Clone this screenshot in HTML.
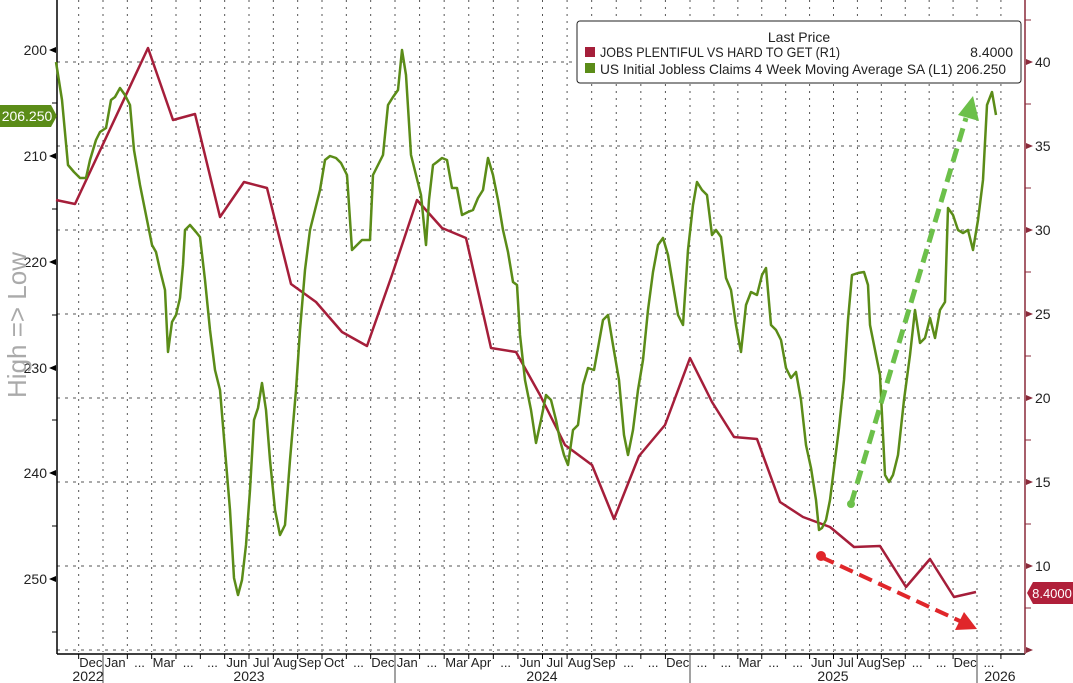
<!DOCTYPE html>
<html><head><meta charset="utf-8"><style>
html,body{margin:0;padding:0;background:#fff}
svg{display:block;font-family:"Liberation Sans",sans-serif}
</style></head><body>
<svg width="1073" height="683" viewBox="0 0 1073 683" xmlns="http://www.w3.org/2000/svg">
<rect width="1073" height="683" fill="#fff"/>
<g id="vgrid" stroke="#555" stroke-width="1" stroke-dasharray="2,5"></g>
<g stroke="#555" stroke-width="1" stroke-dasharray="3,5">
<line x1="57" y1="62" x2="1025" y2="62"/><line x1="57" y1="146" x2="1025" y2="146"/>
<line x1="57" y1="230" x2="1025" y2="230"/><line x1="57" y1="314" x2="1025" y2="314"/>
<line x1="57" y1="398" x2="1025" y2="398"/><line x1="57" y1="482" x2="1025" y2="482"/>
<line x1="57" y1="566" x2="1025" y2="566"/><line x1="57" y1="650" x2="1025" y2="650"/>
</g>
<line x1="57" y1="0" x2="57" y2="654" stroke="#000" stroke-width="1.5"/>
<line x1="57" y1="654" x2="1025" y2="654" stroke="#000" stroke-width="1.5"/>
<line x1="1025" y1="0" x2="1025" y2="654" stroke="#8a2a3a" stroke-width="1.5"/>
<g font-size="14" fill="#222" text-anchor="end">
<text x="47" y="55">200</text><text x="47" y="161">210</text><text x="47" y="267">220</text>
<text x="47" y="373">230</text><text x="47" y="478">240</text><text x="47" y="584">250</text>
</g>
<g fill="#000">
<path d="M49 50l7-3v6z"/><path d="M49 156l7-3v6z"/><path d="M49 262l7-3v6z"/>
<path d="M49 368l7-3v6z"/><path d="M49 473l7-3v6z"/><path d="M49 579l7-3v6z"/>
</g>
<g stroke="#000"><line x1="52" y1="103" x2="57" y2="103"/><line x1="52" y1="209" x2="57" y2="209"/><line x1="52" y1="315" x2="57" y2="315"/><line x1="52" y1="420" x2="57" y2="420"/><line x1="52" y1="526" x2="57" y2="526"/><line x1="52" y1="632" x2="57" y2="632"/></g>
<g font-size="14" fill="#222">
<text x="1035" y="67">40</text><text x="1035" y="151">35</text><text x="1035" y="235">30</text>
<text x="1035" y="319">25</text><text x="1035" y="403">20</text><text x="1035" y="487">15</text>
<text x="1035" y="571">10</text>
</g>
<g fill="#8a2a3a">
<path d="M1033 62l-7-3v6z"/><path d="M1033 146l-7-3v6z"/><path d="M1033 230l-7-3v6z"/><path d="M1033 314l-7-3v6z"/>
<path d="M1033 398l-7-3v6z"/><path d="M1033 482l-7-3v6z"/><path d="M1033 566l-7-3v6z"/><path d="M1033 650l-7-3v6z"/>
</g>
<g stroke="#8a2a3a"><line x1="1025" y1="20" x2="1031" y2="20"/><line x1="1025" y1="104" x2="1031" y2="104"/><line x1="1025" y1="188" x2="1031" y2="188"/><line x1="1025" y1="272" x2="1031" y2="272"/><line x1="1025" y1="356" x2="1031" y2="356"/><line x1="1025" y1="440" x2="1031" y2="440"/><line x1="1025" y1="524" x2="1031" y2="524"/><line x1="1025" y1="608" x2="1031" y2="608"/></g>
<text transform="translate(26,325) rotate(-90)" font-size="26" fill="#aaa" text-anchor="middle">High =&gt; Low</text>
<g id="xlab" font-size="13" fill="#222" text-anchor="middle"></g>
<polyline fill="none" stroke="#a51e3a" stroke-width="2.5" stroke-linejoin="round" points="56,200 75,204 148,48 173,120 195,114 220,217 244,182 267,188 291,284 316,302 342,332 367,346 392,275 417,200 442,228 466,238 491,348 516,352 540,395 565,445 592,465 614,519 639,456 665,425 690,358 712,402 734,437 757,439 780,502 803,517 830,527 854,547 880,546 906,587 930,559 954,597 976,592"/>
<polyline fill="none" stroke="#5b8c18" stroke-width="2.5" stroke-linejoin="round" points="56,62 62,100 68,165 74,172 80,178 86,178 90,160 96,140 100,132 106,128 111,100 115,97 120,88 125,95 130,105 134,150 140,185 146,215 152,245 156,252 160,270 165,290 168,352 172,322 176,315 180,298 183,265 185,230 190,225 196,232 200,237 205,280 210,330 215,370 220,390 225,450 230,510 234,578 238,595 242,580 246,545 250,490 254,420 258,408 262,383 266,410 270,460 275,510 280,535 285,525 290,460 296,390 300,330 305,270 310,230 315,210 320,190 325,160 330,156 336,158 341,163 347,175 352,250 357,245 362,240 370,240 373,175 378,165 383,155 388,105 393,97 398,90 402,50 406,75 411,155 416,175 421,195 426,245 429,200 433,165 437,162 442,158 447,160 452,188 457,188 462,215 468,212 473,210 478,198 483,190 488,158 493,175 498,200 503,230 508,252 513,282 517,285 520,335 525,380 531,410 536,443 541,420 546,395 551,400 556,420 560,440 564,455 568,465 573,430 578,425 583,385 588,368 594,370 598,348 603,320 608,315 613,345 619,380 624,435 628,455 633,430 638,390 643,360 648,310 653,272 658,245 663,238 668,255 673,285 678,315 683,325 688,250 693,205 697,182 702,190 707,195 712,235 716,230 721,237 726,278 731,290 736,325 741,352 746,305 751,292 757,295 762,275 766,268 771,325 776,330 781,340 786,368 791,378 796,372 801,400 806,445 811,468 816,500 819,530 822,528 826,520 830,500 835,460 839,428 844,380 848,320 852,275 858,273 864,272 868,285 870,325 875,350 880,375 885,475 889,482 893,475 898,455 904,400 910,355 915,310 920,343 925,338 930,318 935,338 940,310 945,302 948,208 953,215 958,230 963,233 968,230 973,250 978,220 983,180 987,105 992,92 996,115"/>
<line x1="821" y1="557" x2="962" y2="622" stroke="#e0262a" stroke-width="4" stroke-dasharray="14,7"/>
<circle cx="821" cy="556" r="5" fill="#e0262a"/>
<path d="M977 629 L955 630 L964 612 Z" fill="#e0262a"/>
<line x1="851" y1="504" x2="966" y2="118" stroke="#6cc04a" stroke-width="5" stroke-dasharray="14,7"/>
<circle cx="851" cy="504" r="4" fill="#6cc04a"/>
<path d="M973 96 L979 121 L958 115 Z" fill="#6cc04a"/>
<rect x="577" y="21" width="444" height="62" rx="3" fill="#fff" stroke="#222" stroke-width="1"/>
<g font-size="14" fill="#222">
<text x="799" y="42" text-anchor="middle">Last Price</text>
<rect x="585" y="47" width="10" height="10" fill="#a51e3a"/>
<text x="600" y="57" textLength="240" lengthAdjust="spacingAndGlyphs">JOBS PLENTIFUL VS HARD TO GET  (R1)</text>
<text x="1013" y="57" text-anchor="end">8.4000</text>
<rect x="585" y="63" width="10" height="10" fill="#5b8c18"/>
<text x="600" y="74" textLength="406" lengthAdjust="spacingAndGlyphs">US Initial Jobless Claims 4 Week Moving Average SA  (L1) 206.250</text>
</g>
<path d="M0 105 H51 L57 116 L51 127 H0 Z" fill="#5b8c18"/>
<text x="27" y="121" font-size="14" fill="#fff" text-anchor="middle">206.250</text>
<path d="M1073 582 H1033 L1027 593 L1033 604 H1073 Z" fill="#b0203a"/>
<text x="1052" y="598" font-size="13" fill="#fff" text-anchor="middle">8.4000</text>
<g font-size="14" fill="#222" text-anchor="middle">
<text x="88" y="681">2022</text><text x="249" y="681">2023</text><text x="542" y="681">2024</text><text x="833" y="681">2025</text><text x="1000" y="681">2026</text>
</g>
<g stroke="#444"><line x1="103" y1="654" x2="103" y2="683"/><line x1="395" y1="654" x2="395" y2="683"/><line x1="690" y1="654" x2="690" y2="683"/><line x1="977" y1="654" x2="977" y2="683"/></g>
<script>
(function(){
var ns="http://www.w3.org/2000/svg";
var vg=document.getElementById("vgrid"),xl=document.getElementById("xlab");
var labs=["Dec","Jan","...","Mar","...","...","Jun","Jul","Aug","Sep","Oct","...","Dec","Jan","...","Mar","Apr","...","Jun","Jul","Aug","Sep","...","...","Dec","...","...","Mar","...","...","Jun","Jul","Aug","Sep","...","...","Dec","..."];
function xm(m){
 if(m<12) return 103+m*292/12;
 if(m<24) return 395+(m-12)*295/12;
 return 690+(m-24)*287/12;}
for(var m=-1;m<=38;m++){
 var x=xm(m);
 if(x<1022){
 var l=document.createElementNS(ns,"line");l.setAttribute("x1",x);l.setAttribute("x2",x);l.setAttribute("y1",0);l.setAttribute("y2",652);vg.appendChild(l);
 var t=document.createElementNS(ns,"line");t.setAttribute("x1",x);t.setAttribute("x2",x);t.setAttribute("y1",654);t.setAttribute("y2",659);t.setAttribute("stroke","#000");xl.appendChild(t);}
 if(m<37){var tx=document.createElementNS(ns,"text");tx.setAttribute("x",(x+xm(m+1))/2);tx.setAttribute("y",667);tx.textContent=labs[m+1];xl.appendChild(tx);}
}
})();
</script>
</svg>
</body></html>
